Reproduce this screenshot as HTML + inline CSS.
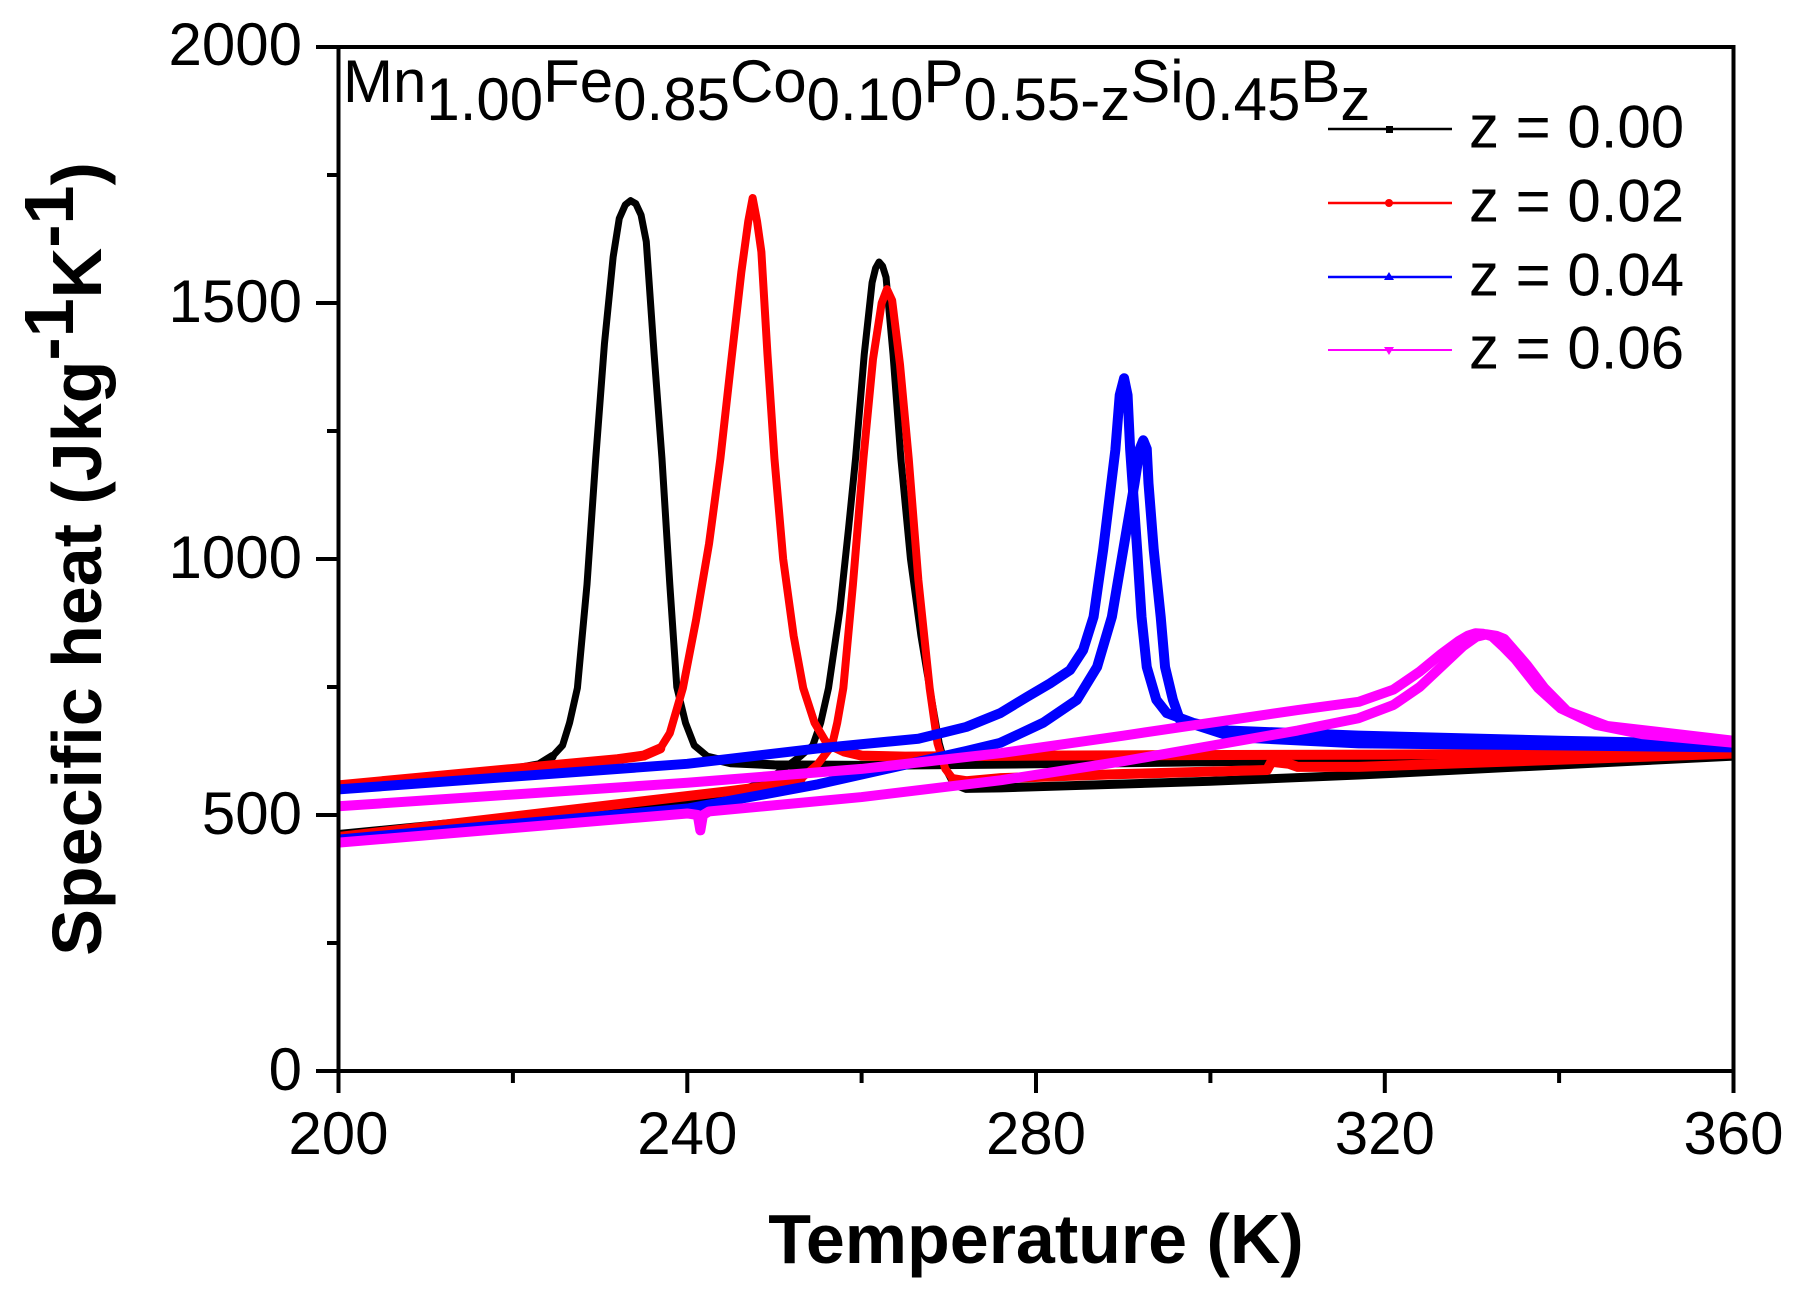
<!DOCTYPE html>
<html>
<head>
<meta charset="utf-8">
<style>
html,body{margin:0;padding:0;background:#fff;}
svg{display:block;}
text{font-family:"Liberation Sans",Arial,sans-serif;fill:#000;}
</style>
</head>
<body>
<svg width="1798" height="1310" viewBox="0 0 1798 1310" xmlns="http://www.w3.org/2000/svg">
<rect x="0" y="0" width="1798" height="1310" fill="#fff"/>
<defs>
<clipPath id="pa"><rect x="338" y="47" width="1396" height="1024"/></clipPath>
</defs>

<!-- data curves -->
<g clip-path="url(#pa)">
<g transform="matrix(8.719 0 0 -0.512 -1405.3 1071)" fill="none" stroke-linejoin="round" stroke-linecap="round">
<!-- black -->
<g stroke="#000">
<polyline vector-effect="non-scaling-stroke" stroke-width="7" points="200,556 215,580 221,592 223,598 224.5,614 225.7,636 226.5,680 227.4,748 228.5,950 229.5,1196 230.5,1420 231.5,1590 232.2,1665 232.9,1692 233.5,1700 234.1,1694 234.7,1672 235.3,1620 236.2,1400 237.1,1196 238,950 238.8,750 239.8,680 240.8,636 242.5,612 245,602 250,598 260,597 280,600 300,604 330,610 360,617"/>
<polyline vector-effect="non-scaling-stroke" stroke-width="9" points="200,556 215,580 221,592 223,598 224.5,614"/>
<polyline vector-effect="non-scaling-stroke" stroke-width="9" points="242.5,612 245,602 250,598 260,597 280,600 300,604 330,610 360,617"/>
<polyline vector-effect="non-scaling-stroke" stroke-width="7" points="200,462 220,495 240,530 246,545 249,565 251,590 253,615 254.4,636 255.3,680 256.2,748 257.5,900 258.5,1060 259.3,1196 260.3,1400 261.2,1540 261.6,1568 262,1580 262.4,1572 262.8,1550 263.6,1400 264.5,1196 265.6,1000 266.8,850 267.8,748 268.9,640 269.8,585 270.5,562 272,552 276,553 300,566 317,578 360,615"/>
<polyline vector-effect="non-scaling-stroke" stroke-width="9" points="200,462 220,495 240,530 246,545 249,565"/>
<polyline vector-effect="non-scaling-stroke" stroke-width="9" points="270.5,562 272,552 276,553 300,566 317,578 360,615"/>
</g>
<!-- red -->
<g stroke="#ff0000">
<polyline vector-effect="non-scaling-stroke" stroke-width="8" points="200,558 220,590 232,609 235,616 236.9,630 238,660 239.5,748 241,880 242.5,1030 243.8,1196 245,1380 246.2,1560 247,1660 247.5,1705 248,1660 248.5,1600 249.2,1400 250,1196 251,1000 252.2,850 253.3,748 254.6,680 256,640 258,624 260,616 265,614 280,616 320,618 360,622"/>
<polyline vector-effect="non-scaling-stroke" stroke-width="10" points="200,558 220,590 232,609 235,616 236.9,630"/>
<polyline vector-effect="non-scaling-stroke" stroke-width="10" points="256,640 258,624 260,616 265,614 280,616 320,618 360,622"/>
<polyline vector-effect="non-scaling-stroke" stroke-width="8" points="200,457 230,517 245,547 250,558 253,570 255,600 256.6,636 257.2,680 257.9,748 259,950 260.2,1196 261.3,1390 262.3,1500 262.9,1527 263.5,1505 264.4,1380 265.4,1196 266.5,960 267.8,748 268.7,640 269.6,590 270.5,570 272,566 276,572 290,580 306.5,588 307,604 309,600 310,594 317,594 360,620"/>
<polyline vector-effect="non-scaling-stroke" stroke-width="10" points="200,457 230,517 245,547 250,558 253,570"/>
<polyline vector-effect="non-scaling-stroke" stroke-width="10" points="270.5,570 272,566 276,572 290,580 306.5,588 307,604 309,600 310,594 317,594 360,620"/>
</g>
<!-- blue -->
<g stroke="#0000ff" stroke-width="10">
<polyline vector-effect="non-scaling-stroke" points="200,550 240,600 255,630 266.5,649 272,672 275.9,699 279,731 281.6,757 283.9,783 285.4,822 286.6,887 287.7,1018 289.1,1213 289.6,1320 290.1,1353 290.5,1320 290.8,1213 291.6,1018 292.1,887 292.7,789 293.8,725 295,699 298,680 302,665 317,655 340,645 360,638"/>
<polyline vector-effect="non-scaling-stroke" points="200,452 240.2,513 255,560 266.5,604 272,625 275.9,641 280.8,680 284.7,725 287,789 288.7,887 290,1018 291.3,1148 291.9,1215 292.3,1232 292.7,1215 292.9,1148 293.5,1018 294.3,887 294.8,789 295.7,725 296.5,686 298.8,673 302.6,652 317,640 340,636 360,632"/>
</g>
<!-- magenta -->
<g stroke="#ff00ff" stroke-width="10">
<polyline vector-effect="non-scaling-stroke" points="200,517 240,563 260,590 276,621 290,655 300,680 310,705 317,721 321,745 324,780 326.5,815 328.5,840 329.5,850 330.4,855 331.3,854 332.3,849 333.5,830 335,804 337.6,748 340.2,708 344.2,676 349.5,658 360,641"/>
<polyline vector-effect="non-scaling-stroke" points="200,446 240,503 241.2,500 241.5,470 241.8,500 242.5,507 260,535 276,568 290,605 300,635 310,665 317,689 321,715 324,750 326.5,790 329,830 330.5,848 331.7,853 332.8,850 333.7,844 336.3,793 338.3,748 340.9,703 345.5,674 360,645"/>
</g>
</g>
</g>

<!-- frame -->
<rect x="338.5" y="47" width="1395" height="1024" fill="none" stroke="#000" stroke-width="4"/>

<!-- y ticks -->
<g stroke="#000" stroke-width="4">
<line x1="316" y1="1071" x2="338" y2="1071"/>
<line x1="316" y1="815" x2="338" y2="815"/>
<line x1="316" y1="559" x2="338" y2="559"/>
<line x1="316" y1="303" x2="338" y2="303"/>
<line x1="316" y1="47" x2="338" y2="47"/>
<line x1="327" y1="943" x2="338" y2="943"/>
<line x1="327" y1="687" x2="338" y2="687"/>
<line x1="327" y1="431" x2="338" y2="431"/>
<line x1="327" y1="175" x2="338" y2="175"/>
<!-- x ticks -->
<line x1="338.5" y1="1071" x2="338.5" y2="1093"/>
<line x1="687.3" y1="1071" x2="687.3" y2="1093"/>
<line x1="1036" y1="1071" x2="1036" y2="1093"/>
<line x1="1384.8" y1="1071" x2="1384.8" y2="1093"/>
<line x1="1733.5" y1="1071" x2="1733.5" y2="1093"/>
<line x1="512.9" y1="1071" x2="512.9" y2="1083"/>
<line x1="861.6" y1="1071" x2="861.6" y2="1083"/>
<line x1="1210.4" y1="1071" x2="1210.4" y2="1083"/>
<line x1="1559.1" y1="1071" x2="1559.1" y2="1083"/>
</g>

<!-- y tick labels -->
<g font-size="60" text-anchor="end">
<text x="302" y="1090">0</text>
<text x="302" y="834">500</text>
<text x="302" y="578">1000</text>
<text x="302" y="322">1500</text>
<text x="302" y="65">2000</text>
</g>

<!-- x tick labels -->
<g font-size="60" text-anchor="middle">
<text x="338.5" y="1154">200</text>
<text x="687.3" y="1154">240</text>
<text x="1036" y="1154">280</text>
<text x="1384.8" y="1154">320</text>
<text x="1733.5" y="1154">360</text>
</g>

<!-- axis titles -->
<text x="1036" y="1263" font-size="70" font-weight="bold" text-anchor="middle">Temperature (K)</text>
<text transform="translate(101,559) rotate(-90)" font-size="70" font-weight="bold" text-anchor="middle">Specific heat (Jkg<tspan dy="-28">-1</tspan><tspan dy="28">K</tspan><tspan dy="-28">-1</tspan><tspan dy="28">)</tspan></text>

<!-- formula title -->
<text x="343" y="102" font-size="60">Mn<tspan dy="18">1.00</tspan><tspan dy="-18">Fe</tspan><tspan dy="18">0.85</tspan><tspan dy="-18">Co</tspan><tspan dy="18">0.10</tspan><tspan dy="-18">P</tspan><tspan dy="18">0.55-z</tspan><tspan dy="-18">Si</tspan><tspan dy="18">0.45</tspan><tspan dy="-18">B</tspan><tspan dy="18">z</tspan></text>

<!-- legend -->
<line x1="1328" y1="129" x2="1452" y2="129" stroke="#000" stroke-width="2.5"/>
<rect x="1386" y="126" width="7" height="7" fill="#000"/>
<line x1="1328" y1="203" x2="1452" y2="203" stroke="#ff0000" stroke-width="2.5"/>
<circle cx="1389" cy="203" r="4" fill="#ff0000"/>
<line x1="1328" y1="277" x2="1452" y2="277" stroke="#0000ff" stroke-width="2.5"/>
<polygon points="1389,272 1394,280 1384,280" fill="#0000ff"/>
<line x1="1328" y1="350" x2="1452" y2="350" stroke="#ff00ff" stroke-width="2"/>
<polygon points="1384,347 1394,347 1389,355" fill="#ff00ff"/>
<g font-size="60">
<text x="1469" y="147.5">z = 0.00</text>
<text x="1469" y="221.5">z = 0.02</text>
<text x="1469" y="295.5">z = 0.04</text>
<text x="1469" y="368.5">z = 0.06</text>
</g>
</svg>
</body>
</html>
